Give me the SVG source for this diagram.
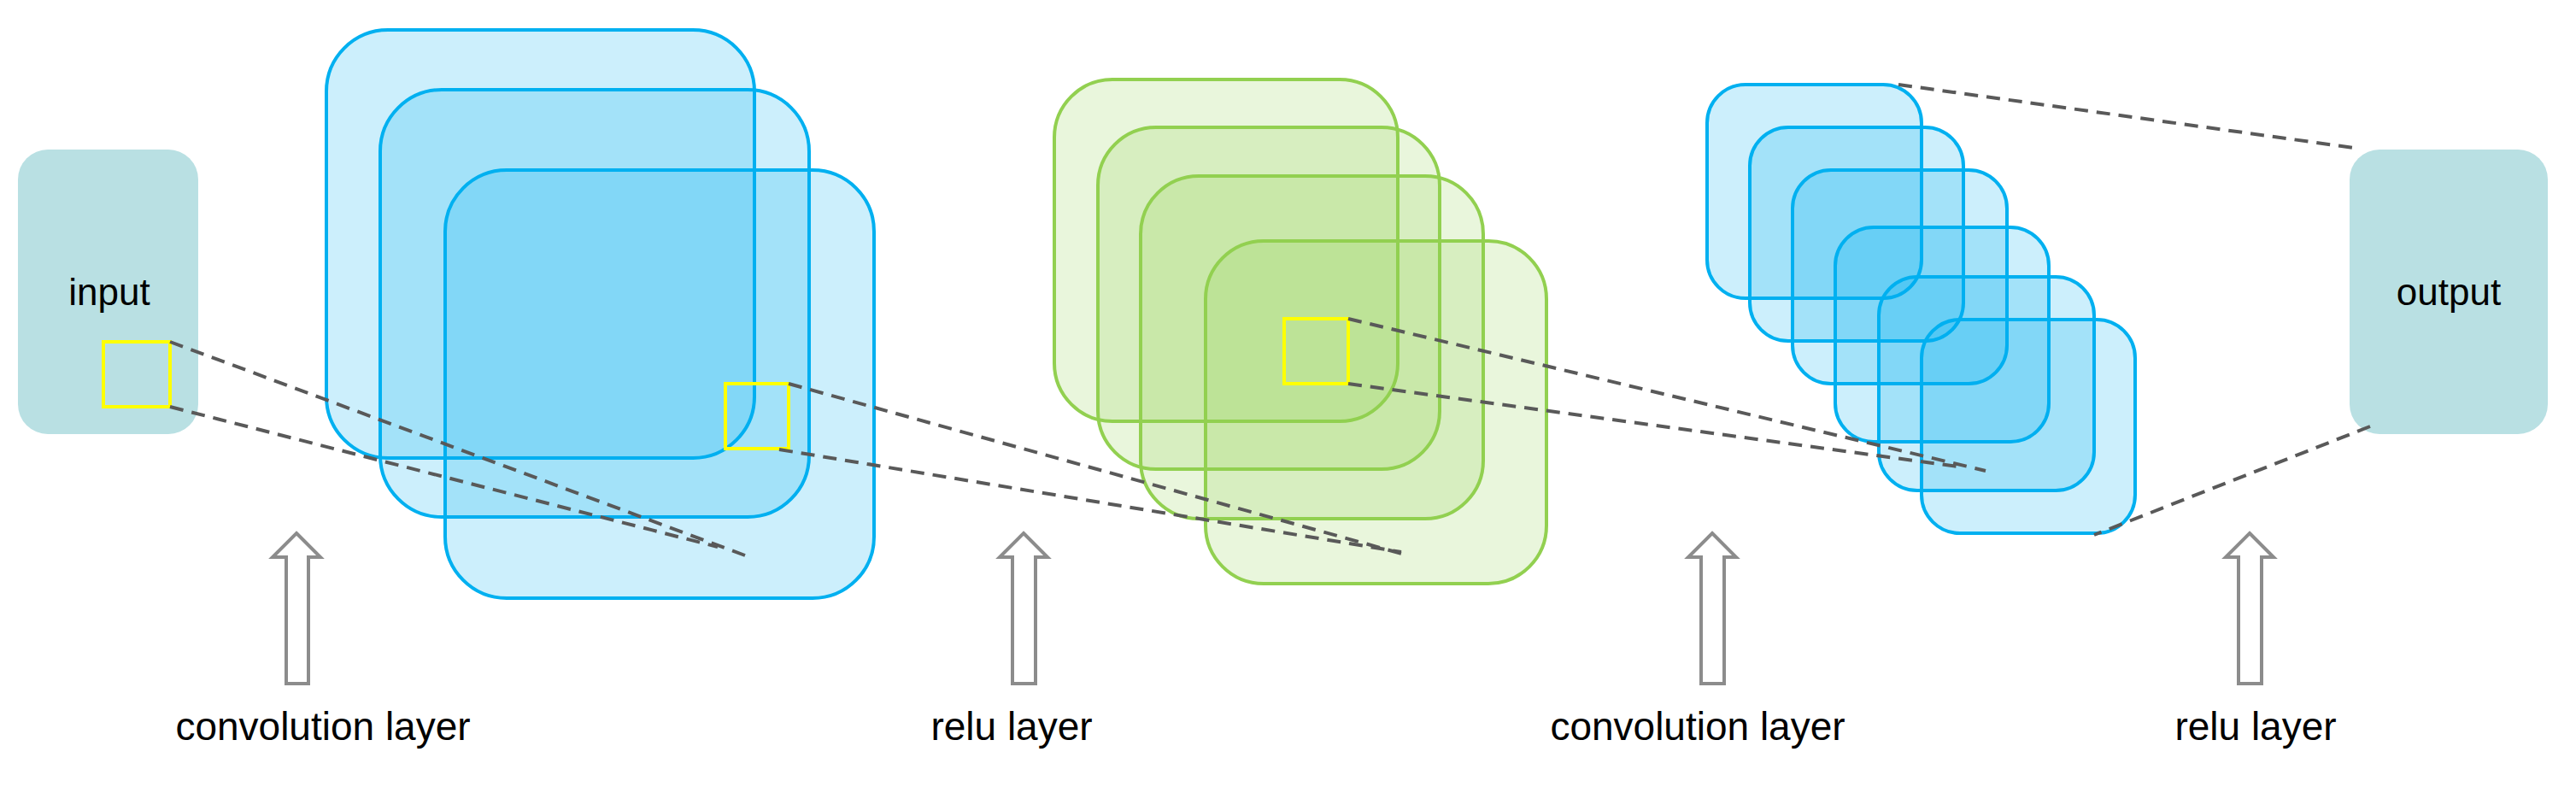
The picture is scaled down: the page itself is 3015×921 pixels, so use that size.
<svg xmlns="http://www.w3.org/2000/svg" width="3015" height="921" viewBox="0 0 3015 921">
<style>
.io{fill:#b9e0e3}
.b{fill:#00b0f0;fill-opacity:0.2;stroke:#00b0f0;stroke-width:4}
.g{fill:#92d050;fill-opacity:0.2;stroke:#92d050;stroke-width:4}
.y{fill:none;stroke:#ffff00;stroke-width:4}
.d{stroke:#595959;stroke-width:4;stroke-dasharray:16 10;fill:none}
.a{fill:#fff;stroke:#8c8c8c;stroke-width:4}
text{font-family:"Liberation Sans",Arial,sans-serif;fill:#000;text-anchor:middle}
</style>
<rect width="3015" height="921" fill="#fff"/>
<g id="input"><rect class="io" x="21" y="175" width="211" height="333" rx="35"/><text x="128" y="357" font-size="44">input</text><rect class="y" x="121" y="400" width="78" height="76"/></g>
<g id="conv1">
<rect class="b" x="382" y="35" width="501" height="501" rx="72"/>
<rect class="b" x="445" y="105" width="502" height="500" rx="72"/>
<rect class="b" x="521" y="199" width="502" height="501" rx="72"/>
<rect class="y" x="849" y="449" width="74" height="76"/>
</g>
<g id="relu1">
<rect class="g" x="1234" y="93" width="402" height="400" rx="68"/>
<rect class="g" x="1285" y="149" width="400" height="400" rx="68"/>
<rect class="g" x="1335" y="206" width="401" height="401" rx="68"/>
<rect class="g" x="1411" y="282" width="399" height="401" rx="68"/>
<rect class="y" x="1503" y="373" width="75" height="76"/>
</g>
<g id="conv2">
<rect class="b" x="1998" y="99" width="251" height="250" rx="45"/>
<rect class="b" x="2048" y="149" width="250" height="250" rx="45"/>
<rect class="b" x="2098" y="199" width="251" height="250" rx="45"/>
<rect class="b" x="2148" y="266" width="250" height="251" rx="45"/>
<rect class="b" x="2199" y="324" width="252" height="250" rx="45"/>
<rect class="b" x="2249" y="374" width="250" height="250" rx="45"/>
</g>
<g id="output"><rect class="io" x="2750" y="175" width="232" height="333" rx="35"/><text x="2866" y="357" font-size="44">output</text></g>
<g id="connectors">
<line class="d" x1="199" y1="400" x2="872" y2="650"/>
<line class="d" x1="199" y1="476" x2="840" y2="640"/>
<line class="d" x1="923" y1="449" x2="1648" y2="650"/>
<line class="d" x1="912" y1="526" x2="1640" y2="646"/>
<line class="d" x1="1578" y1="373" x2="2324" y2="551"/>
<line class="d" x1="1578" y1="449" x2="2292" y2="546"/>
<line class="d" x1="2222" y1="99" x2="2762" y2="174"/>
<line class="d" x1="2774" y1="499" x2="2451" y2="626"/>
</g>
<g id="arrows">
<polygon class="a" points="347,624 375,652 361,652 361,800 335,800 335,652 319,652"/>
<polygon class="a" points="1198,624 1226,652 1212,652 1212,800 1185,800 1185,652 1170,652"/>
<polygon class="a" points="2004,624 2032,652 2018,652 2018,800 1991,800 1991,652 1976,652"/>
<polygon class="a" points="2633,624 2661,652 2647,652 2647,800 2620,800 2620,652 2605,652"/>
</g>
<g id="labels" font-size="46">
<text x="378" y="866">convolution layer</text>
<text x="1184" y="866">relu layer</text>
<text x="1987" y="866">convolution layer</text>
<text x="2640" y="866">relu layer</text>
</g>
</svg>
